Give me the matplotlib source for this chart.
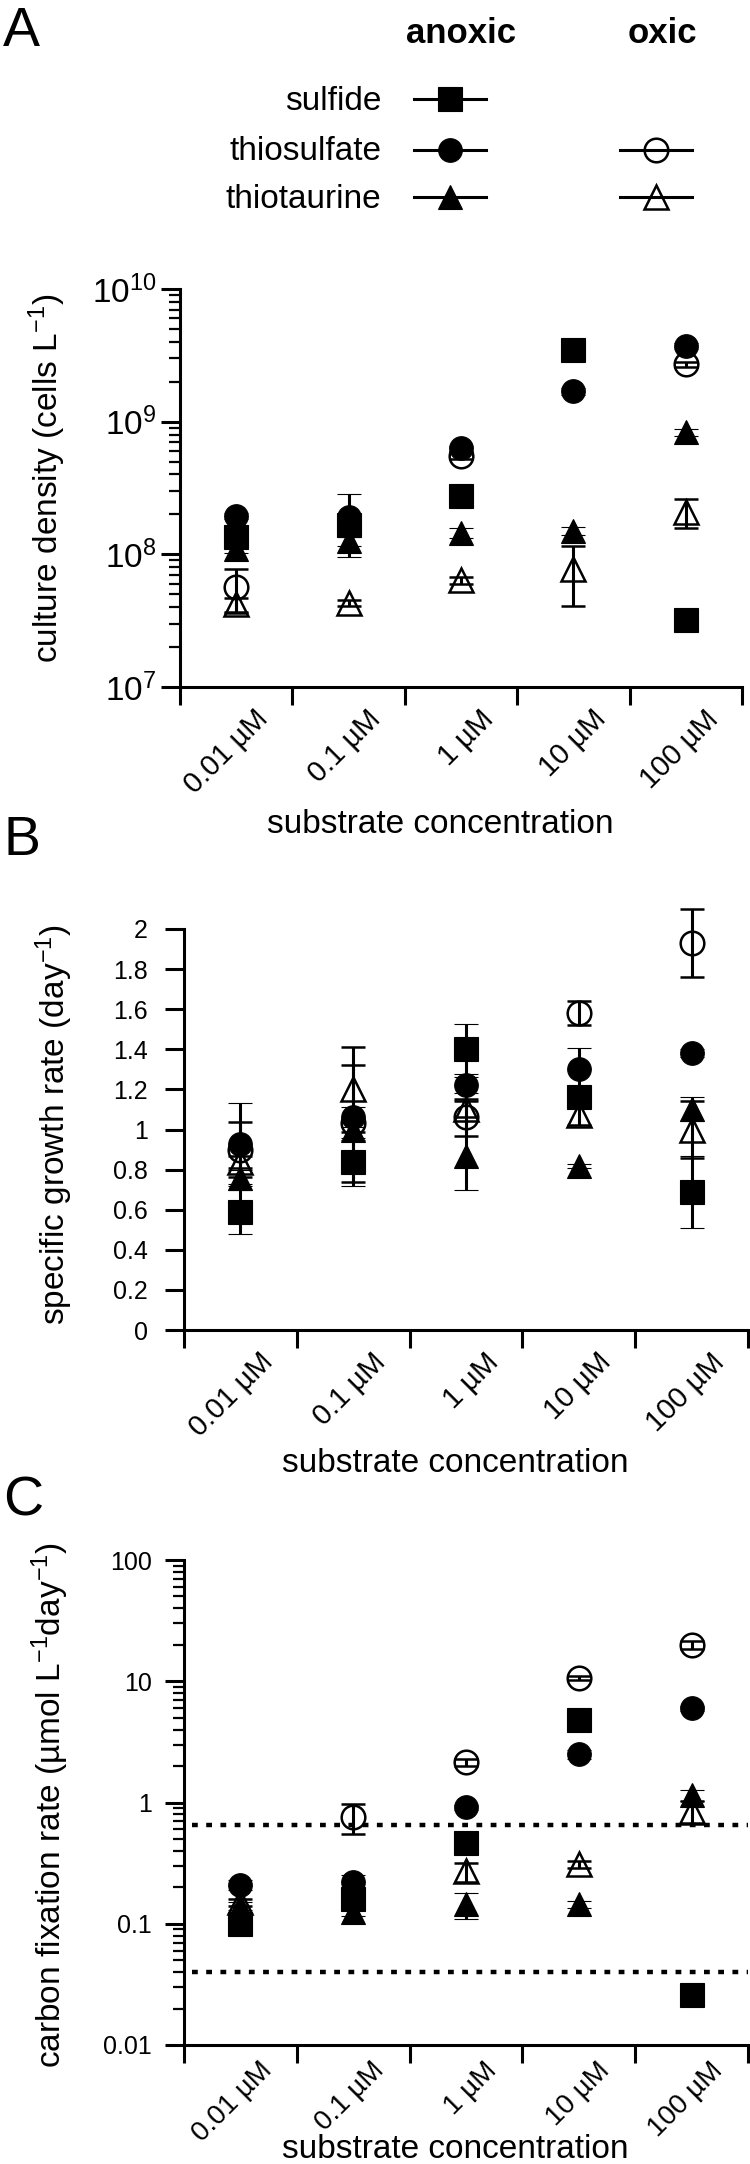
import numpy as np
import matplotlib
matplotlib.use("Agg")
import matplotlib.pyplot as plt
import matplotlib.transforms as mtransforms
from matplotlib.ticker import LogLocator, NullFormatter

plt.rcParams["font.family"] = ["Liberation Sans", "DejaVu Sans"]
plt.rcParams["mathtext.fontset"] = "custom"
plt.rcParams["mathtext.rm"] = "Liberation Sans"
plt.rcParams["mathtext.it"] = "Liberation Sans:italic"
plt.rcParams["mathtext.bf"] = "Liberation Sans:bold"

W, H = 750, 2164
nan = np.nan

categories = ["0.01 µM", "0.1 µM", "1 µM", "10 µM", "100 µM"]

# A: culture density (cells L-1)
dens_sulfide_anox = [1.35e8, 1.65e8, 2.75e8, 3.45e9, 3.2e7]
dens_sulfide_anox_err = [1.5e7, 2.0e7, 2.0e7, 2.0e8, 2.0e6]
dens_thiosulfate_anox = [1.95e8, 1.90e8, 6.3e8, 1.7e9, 3.7e9]
dens_thiosulfate_anox_err = [1.0e7, 9.5e7, 3.0e7, 1.0e8, 2.0e8]
dens_thiotaurine_anox = [1.10e8, 1.25e8, 1.45e8, 1.50e8, 8.3e8]
dens_thiotaurine_anox_err = [8e6, 1.0e7, 1.2e7, 1.0e7, 5.0e7]
dens_thiosulfate_ox = [5.7e7, nan, 5.5e8, nan, 2.7e9]
dens_thiosulfate_ox_err = [2.1e7, nan, 3.0e7, nan, 1.0e8]
dens_thiotaurine_ox = [4.2e7, 4.3e7, 6.4e7, 7.8e7, 2.1e8]
dens_thiotaurine_ox_err = [5e6, 2e6, 4e6, 3.7e7, 5.3e7]

# B: specific growth rate (day-1)
mu_sulfide_anox = [0.59, 0.84, 1.40, 1.16, 0.69]
mu_sulfide_anox_err = [0.11, 0.12, 0.125, 0.05, 0.18]
mu_thiosulfate_anox = [0.93, 1.06, 1.22, 1.30, 1.38]
mu_thiosulfate_anox_err = [0.20, 0.05, 0.04, 0.105, 0.02]
mu_thiotaurine_anox = [0.76, 1.00, 0.87, 0.82, 1.10]
mu_thiotaurine_anox_err = [0.04, 0.05, 0.17, 0.01, 0.06]
mu_thiosulfate_ox = [0.90, 1.03, 1.06, 1.58, 1.93]
mu_thiosulfate_ox_err = [0.135, 0.29, 0.09, 0.06, 0.17]
mu_thiotaurine_ox = [0.84, 1.20, 1.10, 1.07, 1.00]
mu_thiotaurine_ox_err = [0.03, 0.21, 0.04, 0.05, 0.14]

# C: carbon fixation rate (umol L-1 day-1)
cfix_sulfide_anox = [0.10, 0.16, 0.46, 4.8, 0.026]
cfix_sulfide_anox_err = [0.01, 0.01, 0.05, 0.3, 0.003]
cfix_thiosulfate_anox = [0.21, 0.22, 0.91, 2.5, 6.0]
cfix_thiosulfate_anox_err = [0.02, 0.03, 0.05, 0.2, 0.3]
cfix_thiotaurine_anox = [0.14, 0.125, 0.145, 0.145, 1.15]
cfix_thiotaurine_anox_err = [0.01, 0.01, 0.035, 0.01, 0.12]
cfix_thiosulfate_ox = [nan, 0.76, 2.15, 10.7, 20.0]
cfix_thiosulfate_ox_err = [nan, 0.21, 0.15, 0.4, 1.5]
cfix_thiotaurine_ox = [0.15, nan, 0.27, 0.31, 0.85]
cfix_thiotaurine_ox_err = [0.01, nan, 0.05, 0.02, 0.18]

detection_limits = [0.65, 0.04]

styles = {
    "sulfide_anox": ("s", "black"),
    "thiosulfate_anox": ("o", "black"),
    "thiotaurine_anox": ("^", "black"),
    "thiosulfate_ox": ("o", "none"),
    "thiotaurine_ox": ("^", "none"),
}

panelA = [
    ("thiotaurine_ox", dens_thiotaurine_ox, dens_thiotaurine_ox_err),
    ("thiosulfate_ox", dens_thiosulfate_ox, dens_thiosulfate_ox_err),
    ("thiotaurine_anox", dens_thiotaurine_anox, dens_thiotaurine_anox_err),
    ("thiosulfate_anox", dens_thiosulfate_anox, dens_thiosulfate_anox_err),
    ("sulfide_anox", dens_sulfide_anox, dens_sulfide_anox_err),
]
panelB = [
    ("thiotaurine_ox", mu_thiotaurine_ox, mu_thiotaurine_ox_err),
    ("thiosulfate_ox", mu_thiosulfate_ox, mu_thiosulfate_ox_err),
    ("thiotaurine_anox", mu_thiotaurine_anox, mu_thiotaurine_anox_err),
    ("thiosulfate_anox", mu_thiosulfate_anox, mu_thiosulfate_anox_err),
    ("sulfide_anox", mu_sulfide_anox, mu_sulfide_anox_err),
]
panelC = [
    ("thiotaurine_ox", cfix_thiotaurine_ox, cfix_thiotaurine_ox_err),
    ("thiosulfate_ox", cfix_thiosulfate_ox, cfix_thiosulfate_ox_err),
    ("thiotaurine_anox", cfix_thiotaurine_anox, cfix_thiotaurine_anox_err),
    ("thiosulfate_anox", cfix_thiosulfate_anox, cfix_thiosulfate_anox_err),
    ("sulfide_anox", cfix_sulfide_anox, cfix_sulfide_anox_err),
]

LW = 2.2
MS = 17


def px_axes(left, top, right, bottom):
    return [left / W, 1 - bottom / H, (right - left) / W, (bottom - top) / H]


fig = plt.figure(figsize=(W / 100, H / 100), dpi=100)


def draw_panel(ax, series):
    x = np.arange(len(categories)) + 0.5
    for key, vals, errs in series:
        marker, fill = styles[key]
        eb = ax.errorbar(x, vals, yerr=errs, fmt=marker, ms=MS, mfc=fill,
                         mec="black", mew=1.8 if fill == "none" else 0.8,
                         ecolor="black", elinewidth=LW, capsize=8.5,
                         capthick=LW, color="black")
        eb.lines[0].set_clip_on(False)
        for a in eb.lines[1] + eb.lines[2]:
            a.set_clip_on(False)


def style_axes(ax, labelsize=21, drop=13):
    for s in ["top", "right"]:
        ax.spines[s].set_visible(False)
    for s in ["left", "bottom"]:
        ax.spines[s].set_linewidth(LW)
    ax.set_xlim(0, len(categories))
    ax.set_xticks(np.arange(len(categories) + 1))
    ax.xaxis.set_major_formatter(NullFormatter())
    ax.tick_params(axis="x", which="major", length=13, width=LW, direction="out")
    ax.tick_params(axis="x", which="minor", length=0)
    off = mtransforms.ScaledTranslation(13 / 72, -drop / 72, fig.dpi_scale_trans)
    trans = mtransforms.blended_transform_factory(ax.transData, ax.transAxes) + off
    for i, cat in enumerate(categories):
        ax.text(i + 0.5, 0, cat, transform=trans, rotation=45, ha="right",
                va="top", rotation_mode="anchor", fontsize=labelsize)


def log_y(ax, ticks, labels, labelsize, pad):
    ax.set_yscale("log")
    ax.set_ylim(ticks[0], ticks[-1])
    ax.set_yticks(ticks, labels=labels)
    ax.yaxis.set_minor_locator(LogLocator(base=10, subs=np.arange(2, 10)))
    ax.yaxis.set_minor_formatter(NullFormatter())
    ax.tick_params(axis="y", which="major", length=14, width=LW,
                   labelsize=labelsize, pad=pad)
    ax.tick_params(axis="y", which="minor", length=8, width=1.6)


# panel A
axA = fig.add_axes(px_axes(180, 289, 742, 687))
draw_panel(axA, panelA)
style_axes(axA)
log_y(axA, [1e7, 1e8, 1e9, 1e10],
      ["$10^{7}$", "$10^{8}$", "$10^{9}$", "$10^{10}$"], 24, 3)

# panel B
axB = fig.add_axes(px_axes(184, 929, 748, 1330))
draw_panel(axB, panelB)
style_axes(axB)
axB.set_ylim(0, 2)
bt = np.round(np.arange(0, 2.01, 0.2), 1)
axB.set_yticks(bt, labels=[f"{v:g}" for v in bt])
axB.tick_params(axis="y", length=14, width=LW, labelsize=18, pad=12)

# panel C
axC = fig.add_axes(px_axes(184, 1560, 748, 2045))
for lim in detection_limits:
    axC.axhline(lim, xmin=0.014, xmax=1, color="black", lw=3.2,
                linestyle=(0, (1.3, 1.9)), zorder=1)
draw_panel(axC, panelC)
style_axes(axC, labelsize=20, drop=9)
log_y(axC, [0.01, 0.1, 1, 10, 100], ["0.01", "0.1", "1", "10", "100"], 18, 9)


def ftext(x, y, s, **kw):
    fig.text(x / W, 1 - y / H, s, **kw)


# axis labels
ftext(47, 478, "culture density (cells L$^{-1}$)", rotation=90,
      ha="center", va="center", fontsize=24)
ftext(54, 1125, "specific growth rate (day$^{-1}$)", rotation=90,
      ha="center", va="center", fontsize=24)
ftext(50, 1805, "carbon fixation rate (µmol L$^{-1}$day$^{-1}$)", rotation=90,
      ha="center", va="center", fontsize=24)
for xc, yb in [(440, 833), (455, 1472), (455, 2158)]:
    ftext(xc, yb, "substrate concentration", ha="center", va="baseline",
          fontsize=24)

# panel letters
ftext(3, 6, "A", ha="left", va="top", fontsize=40)
ftext(3, 815, "B", ha="left", va="top", fontsize=40)
ftext(3, 1476, "C", ha="left", va="top", fontsize=40)

# legend block
ftext(461, 43, "anoxic", ha="center", va="baseline", fontsize=25,
      fontweight="bold")
ftext(662, 43, "oxic", ha="center", va="baseline", fontsize=25,
      fontweight="bold")

leg = fig.add_axes([0, 0, 1, 1])
leg.set_xlim(0, W)
leg.set_ylim(H, 0)
leg.axis("off")

legend_rows = [("sulfide", 110, 99), ("thiosulfate", 160, 150),
               ("thiotaurine", 208, 197)]
legend_entries = [("sulfide_anox", 0, 450), ("thiosulfate_anox", 1, 450),
                  ("thiotaurine_anox", 2, 450), ("thiosulfate_ox", 1, 656),
                  ("thiotaurine_ox", 2, 656)]
for name, yb, ym in legend_rows:
    ftext(381, yb, name, ha="right", va="baseline", fontsize=24)
for key, row, xc in legend_entries:
    marker, fill = styles[key]
    ym = legend_rows[row][2]
    leg.plot([xc - 36, xc + 36], [ym, ym], color="black", lw=LW)
    leg.plot([xc], [ym], marker=marker, ms=MS, mfc=fill, mec="black",
             mew=1.8 if fill == "none" else 0.8, ls="none")

fig.savefig("out.png", dpi=100)
